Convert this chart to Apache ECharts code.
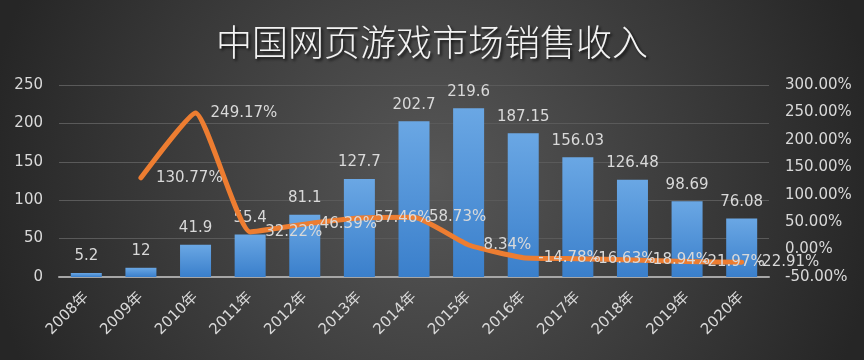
<!DOCTYPE html>
<html><head><meta charset="utf-8">
<script src="https://cdn.jsdelivr.net/npm/echarts@6/dist/echarts.min.js"></script>
<style>html,body{margin:0;padding:0;background:#2b2b2b}#c{width:864px;height:360px}</style>
</head><body><div id="c"></div>
<script>
const categories = ['2008年','2009年','2010年','2011年','2012年','2013年','2014年','2015年','2016年','2017年','2018年','2019年','2020年'];
const revenue = [5.2, 12, 41.9, 55.4, 81.1, 127.7, 202.7, 219.6, 187.15, 156.03, 126.48, 98.69, 76.08];
const growth = [null, 130.77, 249.17, 32.22, 46.39, 57.46, 58.73, 8.34, -14.78, -16.63, -18.94, -21.97, -22.91];
const leftAxisRange = [0, 250, 50];
const rightAxisRange = [-50, 300, 50];

const FONT = "'DejaVu Sans','Noto Sans CJK SC',sans-serif";
const TXT = '#d9d9d9';
const chart = echarts.init(document.getElementById('c'));
chart.setOption({
  animation: false,
  backgroundColor: {
    type: 'radial', x: 0.5, y: 0.5, r: 1.25,
    colorStops: [{offset: 0, color: '#575757'}, {offset: 1, color: '#262626'}]
  },
  title: {
    text: '中国网页游戏市场销售收入',
    left: 'center', top: 19,
    textStyle: {
      color: '#f2f2f2', fontSize: 36, fontWeight: 300,
      fontFamily: "'Noto Sans CJK SC',sans-serif",
      textShadowColor: 'rgba(0,0,0,0.75)', textShadowBlur: 3,
      textShadowOffsetX: 2, textShadowOffsetY: 2
    }
  },
  grid: {left: 59, right: 95, top: 85, bottom: 83, containLabel: false},
  xAxis: {
    type: 'category', data: categories,
    axisLine: {lineStyle: {color: '#a6a6a6', width: 2}},
    axisTick: {show: false},
    axisLabel: {rotate: 45, color: TXT, fontSize: 15, fontFamily: FONT, margin: 18, interval: 0}
  },
  yAxis: [{
    type: 'value', min: leftAxisRange[0], max: leftAxisRange[1], interval: leftAxisRange[2],
    axisLine: {show: false}, axisTick: {show: false},
    axisLabel: {color: TXT, fontSize: 15, fontFamily: FONT, margin: 16},
    splitLine: {lineStyle: {color: '#5a5a5a', width: 1}}
  }, {
    type: 'value', min: rightAxisRange[0], max: rightAxisRange[1], interval: rightAxisRange[2],
    axisLine: {show: false}, axisTick: {show: false},
    axisLabel: {color: TXT, fontSize: 15, fontFamily: FONT, margin: 16,
      formatter: v => v.toFixed(2) + '%'},
    splitLine: {show: false}
  }],
  series: [{
    type: 'bar', data: revenue, barWidth: 31, yAxisIndex: 0,
    itemStyle: {
      color: {type: 'linear', x: 0, y: 0, x2: 0, y2: 1,
        colorStops: [{offset: 0, color: '#6aa7e4'}, {offset: 1, color: '#3a7fcb'}]}
    },
    label: {show: true, position: 'top', distance: 9, color: TXT, fontSize: 15, fontFamily: FONT}
  }, {
    type: 'line', data: growth, yAxisIndex: 1, smooth: 0.15,
    symbol: 'circle', symbolSize: 2, showSymbol: true,
    itemStyle: {color: '#ed7d31'},
    lineStyle: {color: '#ed7d31', width: 5, cap: 'round', join: 'round'},
    label: {show: true, position: 'right', distance: 14, color: TXT, fontSize: 15, fontFamily: FONT,
      formatter: p => p.value == null ? '' : p.value.toFixed(2) + '%'},
    z: 3
  }]
});
</script></body></html>
